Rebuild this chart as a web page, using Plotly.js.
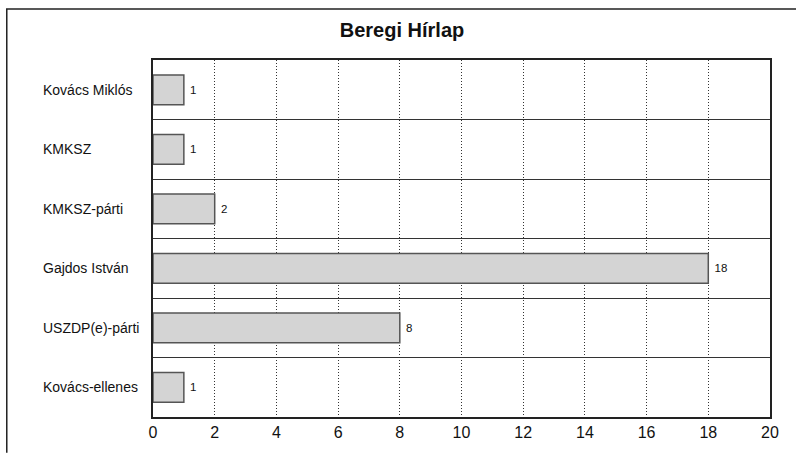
<!DOCTYPE html>
<html>
<head>
<meta charset="utf-8">
<script src="https://cdn.plot.ly/plotly-3.0.1.min.js"></script>
<style>
  body { margin: 0; background: #fff; }
  #myDiv { width: 796px; height: 459px; }
</style>
</head>
<body>
<div id="myDiv"></div>
<script>
// categories listed bottom to top, as plotly draws them
var categories = ['Kovács-ellenes', 'USZDP(e)-párti', 'Gajdos István', 'KMKSZ-párti', 'KMKSZ', 'Kovács Miklós'];
var counts = [1, 8, 18, 2, 1, 1];
var xTicks = [0, 2, 4, 6, 8, 10, 12, 14, 16, 18, 20];

var trace1 = {
    type: 'bar',
    orientation: 'h',
    x: counts,
    y: categories,
    width: 0.5,
    text: counts.map(function (v) { return ' ' + v; }),
    textposition: 'outside',
    textfont: { size: 11.5, color: '#111' },
    cliponaxis: false,
    marker: {
        color: '#d4d4d4',
        line: { color: '#555', width: 1.5 }
    },
    hoverinfo: 'x+y'
};

// left-aligned category labels
var labels = categories.map(function (c) {
    return {
        text: c, x: -0.181, xref: 'paper', xanchor: 'left',
        y: c, yref: 'y', showarrow: false,
        font: { size: 14, color: '#111' }
    };
});

var layout = {
    width: 796,
    height: 459,
    margin: { l: 153, r: 26, t: 60, b: 42 },
    paper_bgcolor: '#fff',
    plot_bgcolor: '#fff',
    font: { family: 'Liberation Sans, Arial, sans-serif', color: '#111' },
    title: {
        text: '<b>Beregi Hírlap</b>',
        font: { size: 20, color: '#111' },
        xref: 'container', x: 0.505, y: 0.935, yanchor: 'middle'
    },
    showlegend: false,
    bargap: 0.5,
    xaxis: {
        range: [0, 20],
        tickvals: xTicks,
        ticktext: xTicks.map(String),
        tickfont: { size: 16, color: '#111' },
        ticks: '',
        showgrid: true,
        gridcolor: '#333',
        griddash: '1px,2px',
        gridwidth: 1,
        zeroline: false,
        showline: true,
        linecolor: '#222',
        linewidth: 1.5,
        mirror: true,
        fixedrange: true
    },
    yaxis: {
        type: 'category',
        categoryorder: 'array',
        categoryarray: categories,
        tickson: 'boundaries',
        showgrid: true,
        gridcolor: '#333',
        gridwidth: 1,
        showticklabels: false,
        ticks: '',
        showline: true,
        linecolor: '#222',
        linewidth: 2,
        mirror: true,
        fixedrange: true
    },
    annotations: labels,
    shapes: [{
        type: 'path',
        xref: 'paper', yref: 'paper',
        path: 'M -0.237 -0.1 L -0.237 1.143 L 1.05 1.143',
        line: { color: '#222', width: 1.5 }
    }]
};

var config = { responsive: false, displayModeBar: false };

Plotly.newPlot('myDiv', [trace1], layout, config);
</script>
</body>
</html>
